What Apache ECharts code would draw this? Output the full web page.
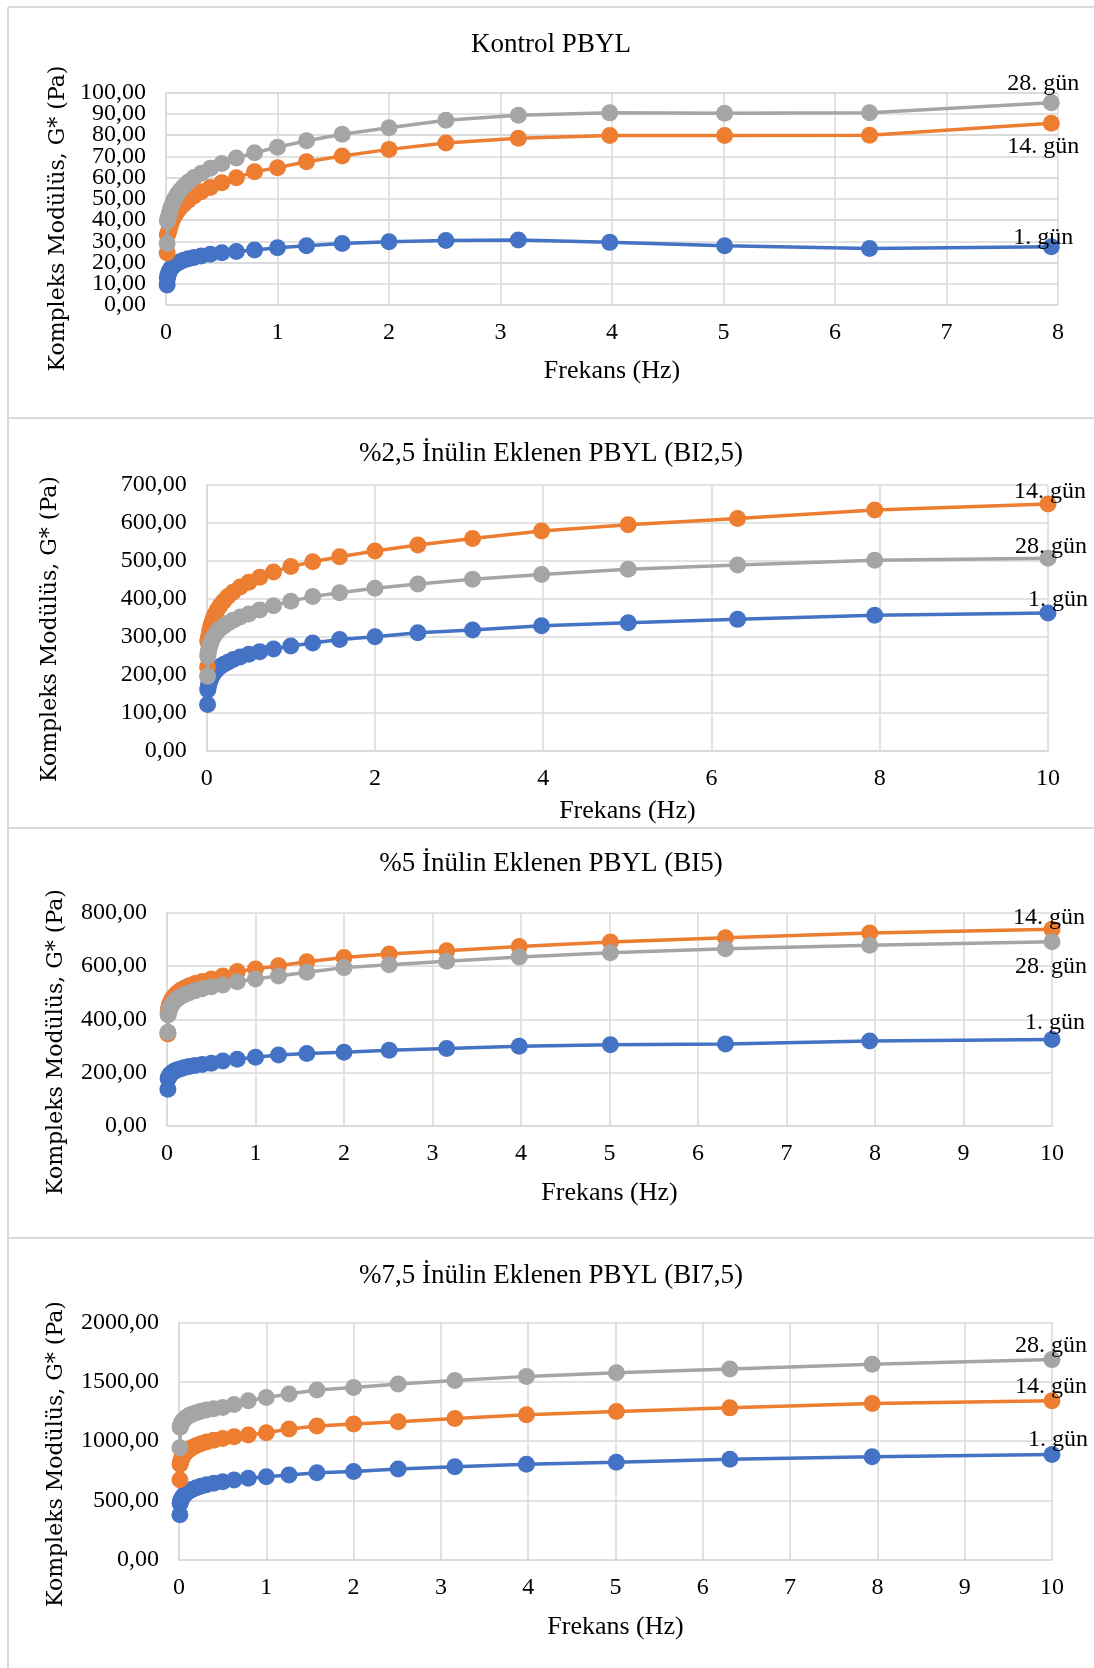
<!DOCTYPE html>
<html><head><meta charset="utf-8">
<script src="https://cdn.jsdelivr.net/npm/echarts@6/dist/echarts.min.js"></script>
<style>html,body{margin:0;padding:0;background:#fff}#c{width:1094px;height:1668px}</style>
</head><body><div id="c"></div>
<script>
// ---- data ----
const frequencyHz = [0.01, 0.0126, 0.0158, 0.02, 0.0251, 0.0316, 0.0398, 0.0501, 0.0631, 0.0794,
  0.1, 0.126, 0.158, 0.2, 0.251, 0.316, 0.398, 0.501, 0.631, 0.794,
  1, 1.26, 1.58, 2, 2.51, 3.16, 3.98, 5.01, 6.31, 7.94, 10];
const kontrolFrequencyHz = [0.01, 0.0126, 0.0158, 0.02, 0.0251, 0.0316, 0.0398, 0.0501, 0.0631, 0.0794,
  0.1, 0.126, 0.158, 0.2, 0.251, 0.316, 0.398, 0.501, 0.631, 0.794,
  1, 1.26, 1.58, 2, 2.51, 3.16, 3.98, 5.01, 6.31, 7.94];
const seriesNames = ['1. gün', '14. gün', '28. gün'];
const panelTitles = ['Kontrol PBYL', '%2,5 İnülin Eklenen PBYL (BI2,5)', '%5 İnülin Eklenen PBYL (BI5)', '%7,5 İnülin Eklenen PBYL (BI7,5)'];
const xAxisName = 'Frekans (Hz)';
const yAxisName = 'Kompleks Modülüs, G* (Pa)';

const kontrol_1 = [9.4, 12.6, 13.6, 14.5, 15.3, 16.0, 16.8, 17.5, 18.3, 19.0, 19.7, 20.4, 21.1, 21.8, 22.4, 23.1, 23.9, 24.6, 25.2, 25.9, 27.0, 27.9, 29.0, 29.8, 30.4, 30.6, 29.5, 27.9, 26.6, 27.4];
const kontrol_14 = [24.5, 33.0, 33.6, 34.2, 35.0, 36.2, 37.6, 39.1, 40.7, 42.3, 43.9, 45.7, 47.5, 49.4, 51.3, 53.3, 55.4, 57.6, 59.9, 62.8, 64.7, 67.5, 70.2, 73.3, 76.3, 78.5, 79.8, 79.8, 80.0, 85.6];
const kontrol_28 = [29.0, 39.6, 40.2, 41.0, 42.2, 43.6, 45.1, 46.7, 48.4, 50.2, 52.0, 53.9, 55.8, 57.9, 60.0, 62.1, 64.4, 66.7, 69.2, 71.7, 74.3, 77.4, 80.4, 83.5, 87.0, 89.4, 90.5, 90.3, 90.6, 95.3];

const bi25_1 = [122, 160, 166, 171, 176, 181, 186, 191, 197, 203, 209, 215, 221, 227, 233, 240, 247, 254, 261, 268, 276, 284, 293, 300, 311, 318, 329, 337, 346, 357, 363];
const bi25_14 = [221, 288, 292, 297, 303, 311, 320, 330, 340, 350, 360, 371, 382, 394, 406, 418, 431, 444, 457, 471, 485, 498, 511, 526, 542, 559, 579, 595, 612, 634, 650];
const bi25_28 = [196, 249, 255, 261, 267, 273, 279, 286, 293, 300, 306, 314, 321, 328, 336, 344, 352, 360, 371, 382, 394, 406, 416, 428, 439, 452, 464, 478, 489, 502, 507];

const bi5_1 = [138, 178, 181, 184, 188, 191, 194, 198, 201, 205, 208, 212, 215, 219, 223, 227, 231, 235, 244, 250, 258, 266, 272, 277, 284, 291, 299, 305, 308, 319, 324];
const bi5_14 = [345, 429, 436, 443, 449, 457, 464, 471, 479, 486, 494, 502, 510, 518, 526, 534, 542, 551, 563, 579, 589, 601, 616, 632, 645, 657, 673, 690, 706, 724, 738];
const bi5_28 = [352, 416, 422, 428, 434, 440, 447, 453, 459, 466, 473, 479, 486, 493, 500, 507, 515, 522, 529, 541, 551, 563, 577, 594, 605, 618, 634, 650, 665, 678, 691];

const bi75_1 = [380, 477, 487, 497, 507, 517, 528, 539, 550, 561, 572, 584, 596, 608, 620, 633, 646, 659, 673, 687, 701, 715, 734, 745, 765, 785, 805, 823, 848, 868, 888];
const bi75_14 = [675, 805, 817, 829, 842, 855, 867, 881, 894, 907, 921, 935, 949, 964, 978, 993, 1008, 1023, 1037, 1051, 1070, 1102, 1127, 1144, 1163, 1190, 1222, 1250, 1280, 1316, 1339];
const bi75_28 = [945, 1116, 1126, 1136, 1146, 1156, 1166, 1176, 1187, 1197, 1208, 1219, 1229, 1240, 1251, 1262, 1273, 1284, 1309, 1340, 1368, 1396, 1430, 1452, 1480, 1510, 1545, 1575, 1607, 1647, 1686];

// ---- layout / style ----
const serif = '"Liberation Serif", "Times New Roman", serif';
const colors = ['#4472C4', '#ED7D31', '#A5A5A5'];
const gridColor = '#d9d9d9';

const panels = [
  {freq: kontrolFrequencyHz, values: [kontrol_1, kontrol_14, kontrol_28], grid: {left: 166, top: 92.7, width: 892, height: 212.3},
   xMax: 8, xInt: 1, yMax: 100, yInt: 10, splitLabels: true, titleY: 45, yName: [58, 218.5], nameGap: 53,
   offsets: [[-8, -9], [-8, 23], [-8, -19]]},
  {freq: frequencyHz, values: [bi25_1, bi25_14, bi25_28], grid: {left: 206.7, top: 485, width: 841.3, height: 265.7},
   xMax: 10, xInt: 2, yMax: 700, yInt: 100, titleY: 454, yName: [50, 629], nameGap: 47,
   offsets: [[10, -13], [2, -12], [3, -12]]},
  {freq: frequencyHz, values: [bi5_1, bi5_14, bi5_28], grid: {left: 167, top: 912.7, width: 885, height: 213.3},
   xMax: 10, xInt: 1, yMax: 800, yInt: 200, titleY: 864, yName: [56, 1042], nameGap: 54,
   offsets: [[3, -17], [-3, -12], [-1, 25]]},
  {freq: frequencyHz, values: [bi75_1, bi75_14, bi75_28], grid: {left: 179, top: 1322.3, width: 873, height: 237.7},
   xMax: 10, xInt: 1, yMax: 2000, yInt: 500, titleY: 1276, yName: [56, 1454], nameGap: 54,
   offsets: [[6, -15], [-1, -14], [-1, -14]]}
];

const fmt = v => v.toFixed(2).replace('.', ',');
const labelStyle = {fontFamily: serif, fontSize: 24, color: '#000', margin: 20};
const splitStyle = {show: true, lineStyle: {color: gridColor, width: 1.5}};

const option = {
  animation: false,
  backgroundColor: '#fff',
  grid: panels.map(p => Object.assign({containLabel: false}, p.grid)),
  xAxis: panels.map((p, i) => ({
    type: 'value', gridIndex: i, min: 0, max: p.xMax, interval: p.xInt,
    name: xAxisName, nameLocation: 'middle', nameGap: p.nameGap,
    nameTextStyle: {fontFamily: serif, fontSize: 26, color: '#000'},
    axisLine: {show: true, onZero: false, lineStyle: {color: gridColor, width: 1.5}},
    axisTick: {show: false},
    axisLabel: {fontFamily: serif, fontSize: 24, color: '#000', margin: 16, showMinLabel: true, showMaxLabel: true},
    splitLine: splitStyle
  })),
  yAxis: panels.map((p, i) => ({
    type: 'value', gridIndex: i, min: 0, max: p.yMax, interval: p.splitLabels ? p.yInt * 2 : p.yInt,
    axisLine: {show: true, onZero: false, lineStyle: {color: gridColor, width: 1.5}},
    axisTick: {show: false},
    axisLabel: Object.assign({formatter: fmt, showMinLabel: true, showMaxLabel: true}, labelStyle),
    splitLine: splitStyle
  })),
  series: [],
  graphic: []
};

// densely packed tick labels: second label axis on the same grid carries the in-between ticks
panels.forEach((p, i) => {
  if (!p.splitLabels) return;
  option.yAxis.push({
    type: 'value', gridIndex: i, min: 0, max: p.yMax, interval: p.yInt, position: 'left', offset: 0,
    axisLine: {show: false}, axisTick: {show: false},
    axisLabel: Object.assign({showMinLabel: false, showMaxLabel: false,
      formatter: v => (Math.round(v / p.yInt) % 2 === 1 ? fmt(v) : '')}, labelStyle),
    splitLine: splitStyle
  });
});

panels.forEach((p, i) => {
  p.values.forEach((vals, k) => {
    const data = p.freq.map((f, j) => [f, vals[j]]);
    const last = data.length - 1;
    data[last] = {
      value: data[last],
      label: {show: true, position: 'inside', offset: p.offsets[k], formatter: seriesNames[k],
        fontFamily: serif, fontSize: 24, color: '#000', textBorderWidth: 0}
    };
    option.series.push({
      type: 'line', name: seriesNames[k], xAxisIndex: i, yAxisIndex: i, data: data,
      symbol: 'circle', symbolSize: 17, showSymbol: true, clip: false, z: 2 + k,
      lineStyle: {color: colors[k], width: 3.5},
      itemStyle: {color: colors[k]},
      emphasis: {disabled: true},
      label: {show: false}
    });
  });
  option.graphic.push({
    type: 'text', x: 551, y: p.titleY, z: 10,
    style: {text: panelTitles[i], fontFamily: serif, fontSize: 27, fill: '#000', textAlign: 'center', textVerticalAlign: 'middle'}
  });
  option.graphic.push({
    type: 'text', x: p.yName[0], y: p.yName[1], rotation: Math.PI / 2, z: 10,
    style: {text: yAxisName, fontFamily: '"DejaVu Serif", serif', fontSize: 22, fill: '#000', textAlign: 'center', textVerticalAlign: 'middle'}
  });
});

// panel frames
[7, 418, 828, 1238].forEach(y => option.graphic.push({
  type: 'line', shape: {x1: 8, y1: y, x2: 1094, y2: y}, style: {stroke: gridColor, lineWidth: 2}, silent: true
}));
option.graphic.push({type: 'line', shape: {x1: 8, y1: 7, x2: 8, y2: 1668}, style: {stroke: gridColor, lineWidth: 2}, silent: true});

const chart = echarts.init(document.getElementById('c'), null, {renderer: 'canvas'});
chart.setOption(option);
</script>
</body></html>
